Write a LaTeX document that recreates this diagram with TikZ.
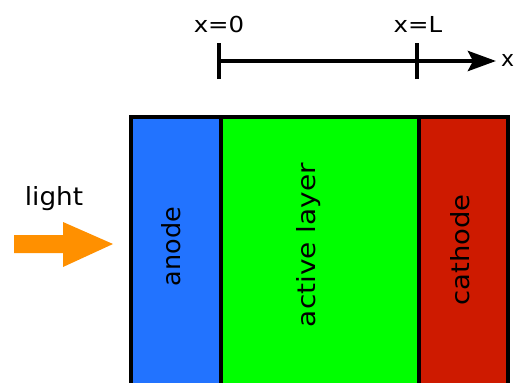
\documentclass[tikz,border=0pt]{standalone}
\usepackage{fontspec}
\setmainfont{DejaVu Sans}
\usetikzlibrary{arrows.meta}
\definecolor{anodeblue}{RGB}{34,115,255}
\definecolor{activegreen}{RGB}{0,255,0}
\definecolor{cathodered}{RGB}{206,26,0}
\definecolor{lightorange}{RGB}{255,144,0}
\begin{document}
\begin{tikzpicture}[x=1pt,y=-1pt,
  layerbox/.style={draw=black, line width=3.8pt, anchor=north west, minimum height=290pt, inner sep=0pt},
  lbl/.style={font=\fontsize{25}{30}\selectfont, inner sep=0pt},
  axlbl/.style={font=\fontsize{22}{26}\selectfont, inner sep=0pt},
  axisline/.style={line width=4.5pt},
  tickmark/.style={line width=3.2pt}]
\path[use as bounding box] (0,0) rectangle (515,383);
\begin{scope}
  \clip (0,0) rectangle (515,383);
  % device stack, cut off at the bottom
  \node[layerbox, fill=anodeblue, minimum width=90pt] (anode) at (129,115) {};
  \node[layerbox, fill=activegreen, minimum width=198pt] (active) at (219,115) {};
  \node[layerbox, fill=cathodered, minimum width=89pt] (cathode) at (417,115) {};
  \node[lbl, rotate=90] (anodetext) at (171.5,246.5) {\scalebox{1.02}[1]{anode}};
  \node[lbl, rotate=90] (activetext) at (309,245) {\scalebox{1.12}[1]{active layer}};
  \node[lbl, rotate=90] (cathodetext) at (460,250) {\scalebox{1.10}[1]{cathode}};
  % position axis
  \coordinate (x0) at (219,61);
  \coordinate (xL) at (417,61);
  \coordinate (xend) at (496,61);
  \draw[axisline, -{Stealth[length=28pt,width=20pt,inset=5pt]}] (x0) -- (xend);
  \draw[tickmark] ([yshift=-18pt]x0) -- ([yshift=18pt]x0);
  \draw[tickmark] ([yshift=-18pt]xL) -- ([yshift=18pt]xL);
  \node[axlbl, anchor=base] (x0text) at (219,32) {\scalebox{1.11}[1]{x=0}};
  \node[axlbl, anchor=base] (xLtext) at (418,32) {\scalebox{1.11}[1]{x=L}};
  \node[axlbl, anchor=west] (xtext) at (501,60) {x};
  % incoming light
  \node[lbl, anchor=base] (light) at (54,205) {\scalebox{1.05}[1]{light}};
  \fill[lightorange] (14,235) -- (63,235) -- (63,222) -- (113,244) -- (63,267) -- (63,253) -- (14,253) -- cycle;
\end{scope}
\end{tikzpicture}
\end{document}
